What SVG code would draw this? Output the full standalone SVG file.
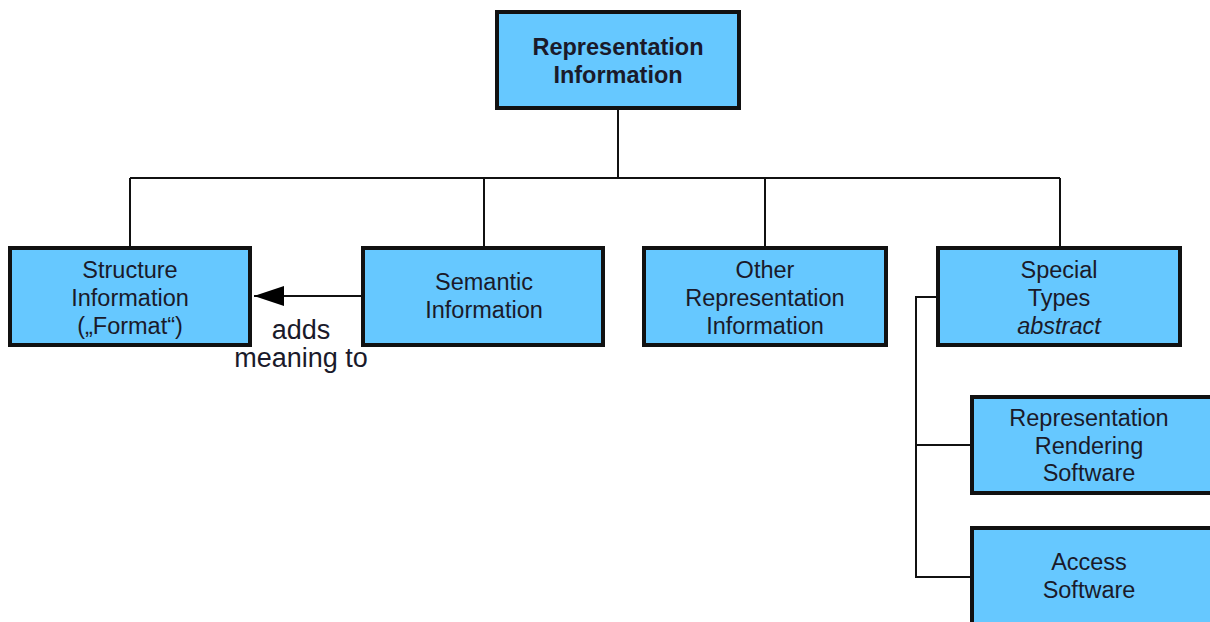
<svg xmlns="http://www.w3.org/2000/svg" width="1210" height="622" viewBox="0 0 1210 622">
<style>
.box{fill:#66c8ff;stroke:#111;stroke-width:4}
.t{font-family:"Liberation Sans",Arial,sans-serif;font-size:23.5px;fill:#1a1a2a;text-anchor:middle}
.l{font-size:27px}
.b{font-weight:bold}
.i{font-style:italic}
.c{fill:none;stroke:#111;stroke-width:2}
</style>
<defs>
<marker id="ah" markerWidth="30" markerHeight="20" refX="30" refY="10" orient="auto" markerUnits="userSpaceOnUse">
<path d="M0,0 L30,10 L0,20 Z" fill="#000"/>
</marker>
</defs>
<rect width="1210" height="622" fill="#fff"/>
<g id="connectors">
<path class="c" d="M618,108 V178 M130,178 H1060 M130,178 V248 M484,178 V248 M765,178 V248 M1060,178 V248"/>
<path class="c" d="M938,297 H916 V577 H972 M916,445 H972"/>
<path class="c" d="M363,296 H254" marker-end="url(#ah)"/>
<text class="t l" x="301" y="339">adds</text>
<text class="t l" x="301" y="367">meaning to</text>
</g>
<g id="rep-info">
<rect class="box" x="497" y="12" width="242" height="96"/>
<text class="t b" x="618" y="55">Representation</text>
<text class="t b" x="618" y="83">Information</text>
</g>
<g id="structure">
<rect class="box" x="10" y="248" width="240" height="97"/>
<text class="t" x="130" y="278">Structure</text>
<text class="t" x="130" y="306">Information</text>
<text class="t" x="130" y="334">(„Format“)</text>
</g>
<g id="semantic">
<rect class="box" x="363" y="248" width="240" height="97"/>
<text class="t" x="484" y="290">Semantic</text>
<text class="t" x="484" y="318">Information</text>
</g>
<g id="other">
<rect class="box" x="644" y="248" width="242" height="97"/>
<text class="t" x="765" y="278">Other</text>
<text class="t" x="765" y="306">Representation</text>
<text class="t" x="765" y="334">Information</text>
</g>
<g id="special">
<rect class="box" x="938" y="248" width="242" height="97"/>
<text class="t" x="1059" y="278">Special</text>
<text class="t" x="1059" y="306">Types</text>
<text class="t i" x="1059" y="334">abstract</text>
</g>
<g id="rendering">
<rect class="box" x="972" y="397" width="240" height="96"/>
<text class="t" x="1089" y="426">Representation</text>
<text class="t" x="1089" y="454">Rendering</text>
<text class="t" x="1089" y="481">Software</text>
</g>
<g id="access">
<rect class="box" x="972" y="528" width="240" height="100"/>
<text class="t" x="1089" y="570">Access</text>
<text class="t" x="1089" y="598">Software</text>
</g>
</svg>
